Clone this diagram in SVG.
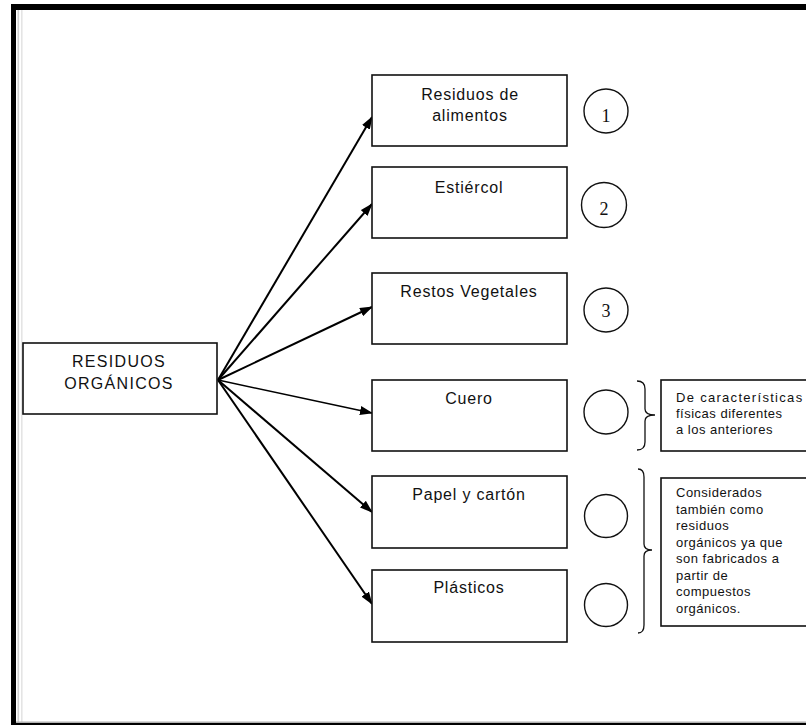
<svg xmlns="http://www.w3.org/2000/svg" width="806" height="725" viewBox="0 0 806 725">
<style>
.box{fill:#fff;stroke:#111;stroke-width:1.6}
.lbl{font-family:"Liberation Sans",Arial,sans-serif;font-size:16px;fill:#111;text-anchor:middle;letter-spacing:0.8px}
.big{letter-spacing:1.3px}
.note{font-family:"Liberation Sans",Arial,sans-serif;font-size:13px;fill:#111;letter-spacing:0.5px}
.circ{fill:none;stroke:#111;stroke-width:1.4}
.num{font-family:"Liberation Serif","Times New Roman",serif;font-size:18px;fill:#111;text-anchor:middle}
.brace{fill:none;stroke:#111;stroke-width:1.3}
.conn{stroke:#000;stroke-width:2;fill:none}
</style>
<defs>
<marker id="ah" markerUnits="userSpaceOnUse" markerWidth="13" markerHeight="9" refX="12" refY="4.5" orient="auto">
<path d="M0,0 L13,4.5 L0,9 Z" fill="#000"/>
</marker>
</defs>
<rect width="806" height="725" fill="#fff"/>
<g id="frame">
<rect x="17.5" y="10" width="1.6" height="712" fill="#d0d0d0"/>
<rect x="21" y="10" width="1.6" height="712" fill="#e4e4e4"/>
<rect x="16" y="721.5" width="790" height="1.5" fill="#b0b0b0"/>
<rect x="11" y="4" width="795" height="6" fill="#000"/>
<rect x="11" y="4" width="5" height="721" fill="#000"/>
<rect x="11" y="723" width="795" height="2" fill="#000"/>
</g>
<g id="connectors">
<line class="conn" x1="218" y1="380" x2="372" y2="117" marker-end="url(#ah)"/>
<line class="conn" x1="218" y1="380" x2="372" y2="204" marker-end="url(#ah)"/>
<line class="conn" x1="218" y1="380" x2="372" y2="307" marker-end="url(#ah)"/>
<line class="conn" style="stroke-width:1.5" x1="218" y1="380" x2="372" y2="413" marker-end="url(#ah)"/>
<line class="conn" x1="218" y1="380" x2="372" y2="512" marker-end="url(#ah)"/>
<line class="conn" x1="218" y1="380" x2="372" y2="604" marker-end="url(#ah)"/>
</g>
<g id="n-root">
<rect class="box" x="23" y="343" width="194" height="71"/>
<text class="lbl big" x="119" y="367">RESIDUOS</text>
<text class="lbl big" x="119" y="389">ORGÁNICOS</text>
</g>
<g id="n-alimentos">
<rect class="box" x="372" y="75" width="195" height="71"/>
<text class="lbl" x="470" y="100">Residuos de</text>
<text class="lbl" x="470" y="121">alimentos</text>
</g>
<g id="n-estiercol">
<rect class="box" x="372" y="167" width="195" height="71"/>
<text class="lbl" x="469" y="193">Estiércol</text>
</g>
<g id="n-vegetales">
<rect class="box" x="372" y="273" width="195" height="71"/>
<text class="lbl" x="469" y="297">Restos Vegetales</text>
</g>
<g id="n-cuero">
<rect class="box" x="372" y="380" width="195" height="71"/>
<text class="lbl" x="469" y="404">Cuero</text>
</g>
<g id="n-papel">
<rect class="box" x="372" y="476" width="195" height="72"/>
<text class="lbl" x="469" y="500">Papel y cartón</text>
</g>
<g id="n-plasticos">
<rect class="box" x="372" y="570" width="195" height="72"/>
<text class="lbl" x="469" y="593">Plásticos</text>
</g>
<g id="c1">
<circle class="circ" cx="606" cy="111" r="22"/>
<text class="num" x="606" y="122">1</text>
</g>
<g id="c2">
<circle class="circ" cx="604" cy="205" r="22.5"/>
<text class="num" x="604" y="215">2</text>
</g>
<g id="c3">
<circle class="circ" cx="606" cy="310" r="22"/>
<text class="num" x="606" y="317">3</text>
</g>
<g id="c4"><circle class="circ" cx="606" cy="412" r="22"/></g>
<g id="c5"><circle class="circ" cx="606" cy="516" r="21.5"/></g>
<g id="c6"><circle class="circ" cx="606" cy="605" r="21.5"/></g>
<g id="brace1">
<path class="brace" d="M637 381 Q645 381 645 389 L645 409 Q645 415 655 415 Q645 415 645 421 L645 442 Q645 450 637 450"/>
</g>
<g id="note1">
<rect class="box" x="661" y="380" width="160" height="71"/>
<text class="note" x="676" y="402" style="letter-spacing:1.3px">De características</text>
<text class="note" x="676" y="418">físicas diferentes</text>
<text class="note" x="676" y="434">a los anteriores</text>
</g>
<g id="brace2">
<path class="brace" d="M638 469 Q644 469 644 477 L644 544 Q644 550 652 550 Q644 550 644 556 L644 625 Q644 633 638 633"/>
</g>
<g id="note2">
<rect class="box" x="661" y="478" width="160" height="148"/>
<text class="note" x="676" y="497">Considerados</text>
<text class="note" x="676" y="513.5">también como</text>
<text class="note" x="676" y="530">residuos</text>
<text class="note" x="676" y="546.5">orgánicos ya que</text>
<text class="note" x="676" y="563">son fabricados a</text>
<text class="note" x="676" y="579.5">partir de</text>
<text class="note" x="676" y="596">compuestos</text>
<text class="note" x="676" y="612.5">orgánicos.</text>
</g>
</svg>
